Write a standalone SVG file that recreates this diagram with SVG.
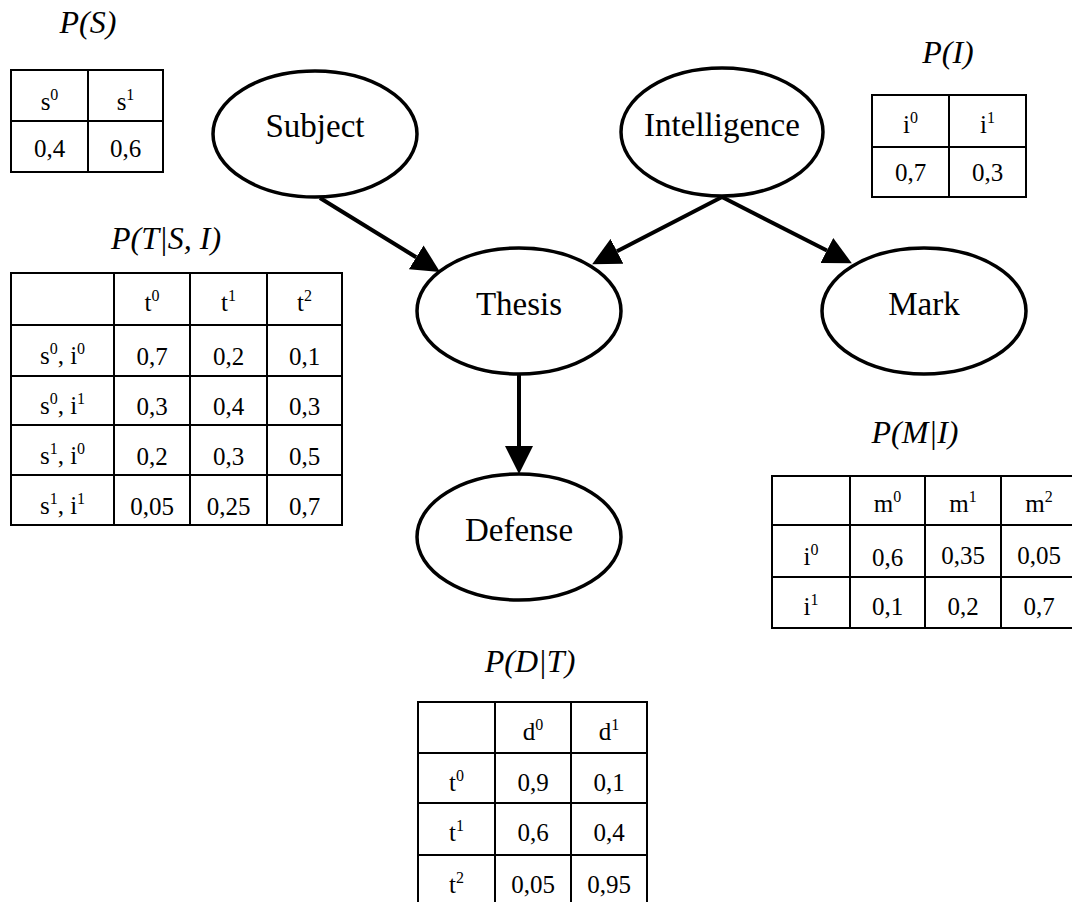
<svg xmlns="http://www.w3.org/2000/svg" width="1072" height="902" viewBox="0 0 1072 902">
<style>
.node{fill:#fff;stroke:#000;stroke-width:3.5}
.lbl{font-family:"Liberation Serif",serif;font-size:33px;text-anchor:middle;fill:#000}
.ttl{font-family:"Liberation Serif",serif;font-size:32px;font-style:italic;text-anchor:middle;fill:#000}
.cell{font-family:"Liberation Serif",serif;font-size:25px;text-anchor:middle;fill:#000}
.sup{font-size:16px}
.grid{fill:none;stroke:#000;stroke-width:2}
.edge{stroke:#000;stroke-width:4;fill:none}
</style>
<defs>
<marker id="ah" viewBox="0 0 28 28" refX="0" refY="14" markerWidth="28" markerHeight="28" markerUnits="userSpaceOnUse" orient="auto">
<path d="M0,0 L28,14 L0,28 Z" fill="#000"/>
</marker>
</defs>
<rect width="1072" height="902" fill="#fff"/>

<g id="connectors">
<line class="edge" x1="320" y1="198" x2="416.2" y2="257.3" marker-end="url(#ah)"/>
<line class="edge" x1="722" y1="197" x2="617" y2="251.3" marker-end="url(#ah)"/>
<line class="edge" x1="722" y1="197" x2="826.9" y2="250.5" marker-end="url(#ah)"/>
<line class="edge" x1="519" y1="375" x2="519" y2="446" marker-end="url(#ah)"/>
</g>

<g id="subject"><ellipse class="node" cx="315" cy="134" rx="102" ry="63"/><text class="lbl" x="315" y="137">Subject</text></g>
<g id="intelligence"><ellipse class="node" cx="722" cy="132" rx="101" ry="64"/><text class="lbl" x="722" y="136">Intelligence</text></g>
<g id="thesis"><ellipse class="node" cx="519" cy="311" rx="102" ry="63"/><text class="lbl" x="519" y="315">Thesis</text></g>
<g id="mark"><ellipse class="node" cx="924" cy="311" rx="102" ry="63"/><text class="lbl" x="924" y="315">Mark</text></g>
<g id="defense"><ellipse class="node" cx="519" cy="537" rx="102" ry="63"/><text class="lbl" x="519" y="541">Defense</text></g>

<g id="table-ps">
<text class="ttl" x="88" y="33">P(S)</text>
<rect class="grid" x="11" y="70" width="152" height="102"/>
<line class="grid" x1="88" y1="70" x2="88" y2="172"/>
<line class="grid" x1="11" y1="121" x2="163" y2="121"/>
<text class="cell" x="49.5" y="110">s<tspan class="sup" dy="-10">0</tspan></text>
<text class="cell" x="125.5" y="110">s<tspan class="sup" dy="-10">1</tspan></text>
<text class="cell" x="49.5" y="157">0,4</text>
<text class="cell" x="125.5" y="157">0,6</text>
</g>

<g id="table-pi">
<text class="ttl" x="948" y="63">P(I)</text>
<rect class="grid" x="872" y="95" width="154" height="102"/>
<line class="grid" x1="949" y1="95" x2="949" y2="197"/>
<line class="grid" x1="872" y1="147" x2="1026" y2="147"/>
<text class="cell" x="910.5" y="133">i<tspan class="sup" dy="-10">0</tspan></text>
<text class="cell" x="987.5" y="133">i<tspan class="sup" dy="-10">1</tspan></text>
<text class="cell" x="910.5" y="181">0,7</text>
<text class="cell" x="987.5" y="181">0,3</text>
</g>

<g id="table-pt">
<text class="ttl" x="166" y="249">P(T|S, I)</text>
<rect class="grid" x="11" y="273" width="331" height="252"/>
<line class="grid" x1="114" y1="273" x2="114" y2="525"/>
<line class="grid" x1="190" y1="273" x2="190" y2="525"/>
<line class="grid" x1="267" y1="273" x2="267" y2="525"/>
<line class="grid" x1="11" y1="325" x2="342" y2="325"/>
<line class="grid" x1="11" y1="376" x2="342" y2="376"/>
<line class="grid" x1="11" y1="425" x2="342" y2="425"/>
<line class="grid" x1="11" y1="475" x2="342" y2="475"/>
<text class="cell" x="152" y="311">t<tspan class="sup" dy="-10">0</tspan></text>
<text class="cell" x="228.5" y="311">t<tspan class="sup" dy="-10">1</tspan></text>
<text class="cell" x="304.5" y="311">t<tspan class="sup" dy="-10">2</tspan></text>
<text class="cell" x="62.5" y="364">s<tspan class="sup" dy="-10">0</tspan><tspan dy="10">, i</tspan><tspan class="sup" dy="-10">0</tspan></text>
<text class="cell" x="62.5" y="414">s<tspan class="sup" dy="-10">0</tspan><tspan dy="10">, i</tspan><tspan class="sup" dy="-10">1</tspan></text>
<text class="cell" x="62.5" y="464">s<tspan class="sup" dy="-10">1</tspan><tspan dy="10">, i</tspan><tspan class="sup" dy="-10">0</tspan></text>
<text class="cell" x="62.5" y="514">s<tspan class="sup" dy="-10">1</tspan><tspan dy="10">, i</tspan><tspan class="sup" dy="-10">1</tspan></text>
<text class="cell" x="152" y="365">0,7</text><text class="cell" x="228.5" y="365">0,2</text><text class="cell" x="304.5" y="365">0,1</text>
<text class="cell" x="152" y="415">0,3</text><text class="cell" x="228.5" y="415">0,4</text><text class="cell" x="304.5" y="415">0,3</text>
<text class="cell" x="152" y="465">0,2</text><text class="cell" x="228.5" y="465">0,3</text><text class="cell" x="304.5" y="465">0,5</text>
<text class="cell" x="152" y="515">0,05</text><text class="cell" x="228.5" y="515">0,25</text><text class="cell" x="304.5" y="515">0,7</text>
</g>

<g id="table-pm">
<text class="ttl" x="915" y="443">P(M|I)</text>
<rect class="grid" x="772" y="476" width="306" height="152"/>
<line class="grid" x1="850" y1="476" x2="850" y2="628"/>
<line class="grid" x1="925" y1="476" x2="925" y2="628"/>
<line class="grid" x1="1001" y1="476" x2="1001" y2="628"/>
<line class="grid" x1="772" y1="525" x2="1078" y2="525"/>
<line class="grid" x1="772" y1="577" x2="1078" y2="577"/>
<text class="cell" x="887.5" y="512">m<tspan class="sup" dy="-10">0</tspan></text>
<text class="cell" x="963" y="512">m<tspan class="sup" dy="-10">1</tspan></text>
<text class="cell" x="1039" y="512">m<tspan class="sup" dy="-10">2</tspan></text>
<text class="cell" x="811" y="565">i<tspan class="sup" dy="-10">0</tspan></text>
<text class="cell" x="811" y="615">i<tspan class="sup" dy="-10">1</tspan></text>
<text class="cell" x="887.5" y="566">0,6</text><text class="cell" x="963" y="564">0,35</text><text class="cell" x="1039" y="564">0,05</text>
<text class="cell" x="887.5" y="615">0,1</text><text class="cell" x="963" y="615">0,2</text><text class="cell" x="1039" y="615">0,7</text>
</g>

<g id="table-pd">
<text class="ttl" x="530" y="672">P(D|T)</text>
<rect class="grid" x="418" y="702" width="229" height="206"/>
<line class="grid" x1="495" y1="702" x2="495" y2="908"/>
<line class="grid" x1="571" y1="702" x2="571" y2="908"/>
<line class="grid" x1="418" y1="753" x2="647" y2="753"/>
<line class="grid" x1="418" y1="803" x2="647" y2="803"/>
<line class="grid" x1="418" y1="855" x2="647" y2="855"/>
<text class="cell" x="533" y="740">d<tspan class="sup" dy="-10">0</tspan></text>
<text class="cell" x="609" y="740">d<tspan class="sup" dy="-10">1</tspan></text>
<text class="cell" x="456.5" y="791">t<tspan class="sup" dy="-10">0</tspan></text>
<text class="cell" x="456.5" y="841">t<tspan class="sup" dy="-10">1</tspan></text>
<text class="cell" x="456.5" y="893">t<tspan class="sup" dy="-10">2</tspan></text>
<text class="cell" x="533" y="791">0,9</text><text class="cell" x="609" y="791">0,1</text>
<text class="cell" x="533" y="841">0,6</text><text class="cell" x="609" y="841">0,4</text>
<text class="cell" x="533" y="893">0,05</text><text class="cell" x="609" y="893">0,95</text>
</g>
</svg>
